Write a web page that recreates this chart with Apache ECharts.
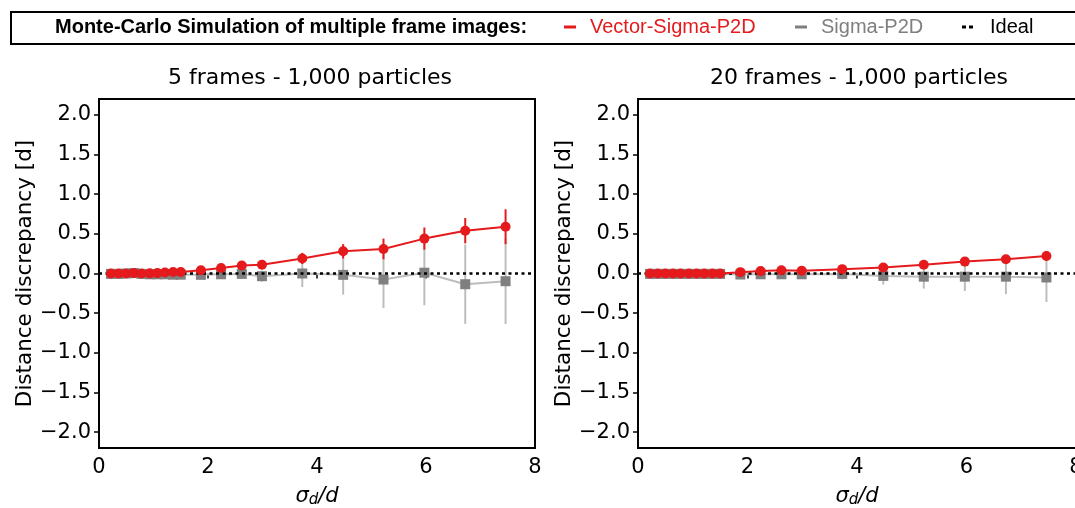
<!DOCTYPE html>
<html>
<head>
<meta charset="utf-8">
<script src="https://cdn.jsdelivr.net/npm/echarts@6/dist/echarts.min.js"></script>
<style>html,body{margin:0;padding:0;background:#fff}#c{width:1075px;height:508px}</style>
</head>
<body>
<div id="c"></div>
<script>
const xVals = [0.22,0.36,0.50,0.64,0.78,0.93,1.07,1.21,1.36,1.50,1.87,2.24,2.62,2.99,3.73,4.48,5.22,5.97,6.72,7.46];
const redY5 = [0,0,0,0.005,0,0.002,0.005,0.012,0.018,0.018,0.04,0.07,0.10,0.11,0.19,0.28,0.31,0.44,0.54,0.59];
const redE5 = [0.01,0.01,0.01,0.01,0.01,0.01,0.01,0.01,0.01,0.01,0.015,0.02,0.025,0.03,0.07,0.09,0.13,0.14,0.16,0.22];
const grayY5 = [-0.005,-0.005,0,0.005,-0.005,-0.01,-0.01,-0.01,-0.015,-0.015,-0.017,-0.01,-0.005,-0.034,0,-0.017,-0.076,0.01,-0.135,-0.097];
const grayE5 = [0.01,0.01,0.02,0.02,0.02,0.02,0.02,0.02,0.02,0.02,0.03,0.04,0.055,0.07,0.17,0.25,0.36,0.41,0.5,0.54];
const redY20 = [0,0,0,0,0,0,0,0,0,0,0.017,0.03,0.04,0.034,0.055,0.076,0.11,0.15,0.18,0.22];
const redE20 = [0.005,0.005,0.005,0.005,0.005,0.005,0.005,0.005,0.005,0.005,0.01,0.01,0.01,0.01,0.015,0.02,0.025,0.03,0.04,0.06];
const grayY20 = [-0.005,-0.005,-0.005,-0.005,-0.005,-0.005,-0.005,-0.005,-0.005,-0.005,-0.013,-0.01,-0.01,-0.01,-0.005,-0.03,-0.04,-0.04,-0.04,-0.05];
const grayE20 = [0.005,0.005,0.005,0.005,0.005,0.005,0.005,0.005,0.005,0.005,0.01,0.015,0.02,0.02,0.07,0.11,0.15,0.18,0.22,0.31];
const yTicks = [-2.0,-1.5,-1.0,-0.5,0.0,0.5,1.0,1.5,2.0];
const xTicks = [0,2,4,6,8];
const titles = ['5 frames - 1,000 particles','20 frames - 1,000 particles'];
const idealX = [0,8];

const RED = '#e41a1c', GRAYM = '#7f7f7f', GRAYL = '#bdbdbd';
const FONT = 'DejaVu Sans';

const chart = echarts.init(document.getElementById('c'));

function pts(ys){ return xVals.map((x,i)=>[x, ys[i]]); }
function errs(ys, es){ return xVals.map((x,i)=>[x, ys[i], es[i]]); }
function errSeries(idx, ys, es, color, z){
  return {
    type:'custom', xAxisIndex:idx, yAxisIndex:idx, z:z, silent:true,
    data: errs(ys, es), encode:{x:0,y:1},
    renderItem:function(params, api){
      const x=api.value(0), y=api.value(1), e=api.value(2);
      const p1=api.coord([x,y-e]), p2=api.coord([x,y+e]);
      return {type:'line', shape:{x1:p1[0],y1:p1[1],x2:p2[0],y2:p2[1]}, style:{stroke:color, lineWidth:2}};
    }
  };
}
function lineSeries(idx, name, ys, lineColor, markColor, symbol, z){
  return {
    type:'line', name:name, xAxisIndex:idx, yAxisIndex:idx, z:z,
    data: pts(ys), symbol:symbol, symbolSize:10, showSymbol:true,
    lineStyle:{color:lineColor, width:2}, itemStyle:{color:markColor},
    emphasis:{disabled:true}, animation:false
  };
}
function idealSeries(idx){
  return {
    type:'line', name:'Ideal', xAxisIndex:idx, yAxisIndex:idx, z:4,
    data: idealX.map(x=>[x,0]), symbol:'none',
    lineStyle:{color:'#000', width:2.5, type:[3,3.5]}, itemStyle:{color:'#000'}, animation:false
  };
}
const fmtMinus = v => (Math.round(v*10)/10).toFixed(1).replace('-', '\u2212');

function xAxis(idx){
  return {
    type:'value', gridIndex:idx, min:0, max:8, interval:2,
    axisLine:{show:false}, splitLine:{show:false},
    axisTick:{show:true, inside:false, length:5, lineStyle:{color:'#000', width:1.5}, customValues: xTicks},
    axisLabel:{color:'#000', fontFamily:FONT, fontSize:21, margin:9, customValues: xTicks},
    name:'{i|\u03c3}{s|d}{i|/d}', nameLocation:'middle', nameGap:37,
    nameTextStyle:{rich:{
      i:{fontFamily:FONT, fontStyle:'italic', fontSize:21, color:'#000'},
      s:{fontFamily:FONT, fontStyle:'italic', fontSize:15, color:'#000', verticalAlign:'bottom', padding:[8,0,0,0]}
    }}
  };
}
function yAxis(idx){
  return {
    type:'value', gridIndex:idx, min:-2.2, max:2.2,
    axisLine:{show:false}, splitLine:{show:false},
    axisTick:{show:true, inside:false, length:5, lineStyle:{color:'#000', width:1.5}, customValues: yTicks},
    axisLabel:{color:'#000', fontFamily:FONT, fontSize:21, margin:8, customValues: yTicks, formatter: fmtMinus},
    name:'Distance discrepancy [d]', nameLocation:'middle', nameRotate:90, nameGap:63,
    nameTextStyle:{fontFamily:FONT, fontSize:21.5, color:'#000'}
  };
}

const legendText = {fontFamily:'Liberation Sans', fontSize:20};
const option = {
  backgroundColor:'#fff',
  animation:false,
  grid:[
    {left:99, top:99, width:436, height:349, show:true, borderColor:'#000', borderWidth:2, backgroundColor:'transparent', outerBoundsMode:'none', containLabel:false},
    {left:638, top:99, width:438, height:349, show:true, borderColor:'#000', borderWidth:2, backgroundColor:'transparent', outerBoundsMode:'none', containLabel:false}
  ],
  xAxis:[xAxis(0), xAxis(1)],
  yAxis:[yAxis(0), yAxis(1)],
  legend:[
    {left:564, top:17, padding:0, selectedMode:false, data:['Vector-Sigma-P2D'], icon:'rect', itemWidth:12, itemHeight:3,
     textStyle:Object.assign({color:RED, padding:[0,0,0,9]}, legendText)},
    {left:795, top:17, padding:0, selectedMode:false, data:['Sigma-P2D'], icon:'rect', itemWidth:12, itemHeight:3,
     textStyle:Object.assign({color:GRAYM, padding:[0,0,0,9]}, legendText), itemStyle:{color:GRAYM}},
    {left:962, top:17, padding:0, selectedMode:false, data:['Ideal'], icon:'path://M0,0h4v3h-4z M7,0h4v3h-4z', itemWidth:11, itemHeight:3,
     textStyle:Object.assign({color:'#000', padding:[0,0,0,12]}, legendText)}
  ],
  graphic:[
    {type:'rect', left:10, top:11, shape:{width:1080, height:32}, style:{fill:'transparent', stroke:'#000', lineWidth:2}, z:-1},
    {type:'text', x:55, y:27, style:{text:'Monte-Carlo Simulation of multiple frame images:', fontFamily:'Liberation Sans', fontWeight:'bold', fontSize:20, fill:'#000', textVerticalAlign:'middle'}},
    {type:'text', x:310, y:78, style:{text:titles[0], fontFamily:FONT, fontSize:22, fill:'#000', textAlign:'center', textVerticalAlign:'middle'}},
    {type:'text', x:859, y:78, style:{text:titles[1], fontFamily:FONT, fontSize:22, fill:'#000', textAlign:'center', textVerticalAlign:'middle'}}
  ],
  series:[
    errSeries(0, grayY5, grayE5, GRAYL, 2),
    lineSeries(0, 'Sigma-P2D', grayY5, GRAYL, GRAYM, 'rect', 3),
    idealSeries(0),
    errSeries(0, redY5, redE5, RED, 5),
    lineSeries(0, 'Vector-Sigma-P2D', redY5, RED, RED, 'circle', 6),
    errSeries(1, grayY20, grayE20, GRAYL, 2),
    lineSeries(1, 'Sigma-P2D', grayY20, GRAYL, GRAYM, 'rect', 3),
    idealSeries(1),
    errSeries(1, redY20, redE20, RED, 5),
    lineSeries(1, 'Vector-Sigma-P2D', redY20, RED, RED, 'circle', 6)
  ]
};
chart.setOption(option);
</script>
</body>
</html>
